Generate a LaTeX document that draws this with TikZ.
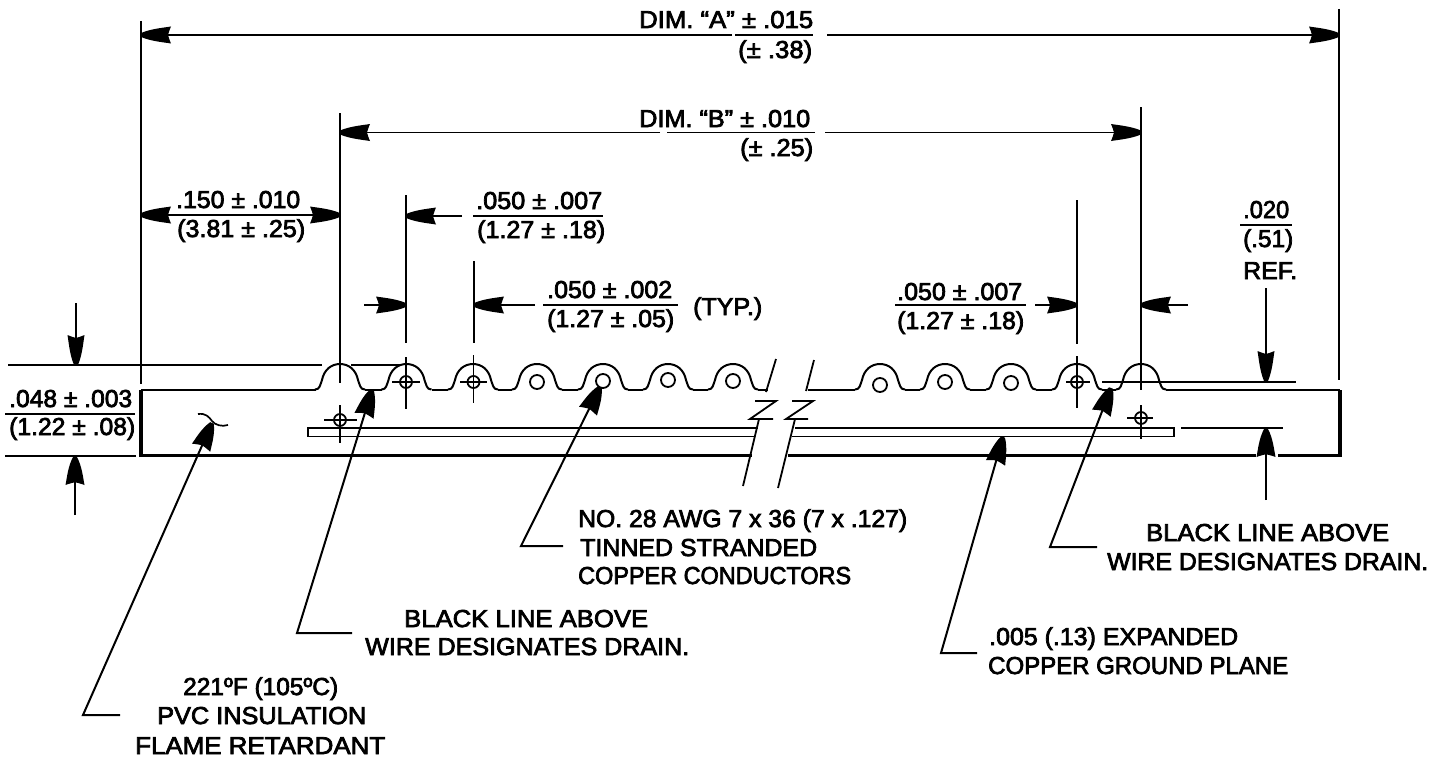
\documentclass[tikz,border=0pt]{standalone}
\usepackage{fontspec}
\usepackage{graphicx}
\usetikzlibrary{arrows.meta}
\newfontfamily\labfont[FakeBold=3]{Liberation Sans}
\newcommand\fw[2]{\resizebox{#1pt}{\height}{#2}}
\newcommand\declbarb[3]{%
  \pgfdeclarearrow{name=#1,
    setup code={\pgfarrowssettipend{0pt}\pgfarrowssetlineend{-14pt}\pgfarrowssetvisualtipend{0pt}\pgfarrowssetbackend{-#2pt}\pgfarrowssetvisualbackend{-20pt}},
    drawing code={
      \pgfpathmoveto{\pgfpoint{0pt}{2pt}}
      \pgfpathcurveto{\pgfpoint{-0.35*#2pt}{0.75*#3pt}}{\pgfpoint{-0.75*#2pt}{0.85*#3pt}}{\pgfpoint{-#2pt}{#3pt}}
      \pgfpathcurveto{\pgfpoint{-0.95*#2pt}{0.6*#3pt}}{\pgfpoint{-0.92*#2pt}{0.25*#3pt}}{\pgfpoint{-0.9*#2pt}{0pt}}
      \pgfpathcurveto{\pgfpoint{-0.92*#2pt}{-0.25*#3pt}}{\pgfpoint{-0.95*#2pt}{-0.6*#3pt}}{\pgfpoint{-#2pt}{-#3pt}}
      \pgfpathcurveto{\pgfpoint{-0.75*#2pt}{-0.85*#3pt}}{\pgfpoint{-0.35*#2pt}{-0.75*#3pt}}{\pgfpoint{0pt}{-2pt}}
      \pgfpathclose
      \pgfusepathqfill
    },
    defaults={}}}
\declbarb{DimBarb}{30}{8.5}
\declbarb{UpBarb}{28}{9.5}
\declbarb{LeadBarb}{27}{10}
\tikzset{
  labw/.style={inner sep=0pt,anchor=base west,font=\labfont\fontsize{24.5}{28}\selectfont},
  ext/.style={line width=1.7pt},
  profile/.style={line width=2pt},
  heavy/.style={line width=3.2pt},
  dimhead/.style={line width=1.5pt,-DimBarb},
  dimheads/.style={line width=1.5pt,DimBarb-DimBarb},
  uphead/.style={line width=1.5pt,-UpBarb},
  leader/.style={line width=2pt,-LeadBarb},
  frac/.style={line width=1.6pt},
  bump/.pic={\draw[profile] (-25,389.5) .. controls (-20,389.5) and (-20,385) .. (-18,380)
     .. controls (-16,370) and (-9,364) .. (0,364)
     .. controls (9,364) and (16,370) .. (18,380)
     .. controls (20,385) and (20,389.5) .. (25,389.5);},
}
\begin{document}
\begin{tikzpicture}[x=1pt,y=-1pt]
\useasboundingbox (0,0) rectangle (1429,760);
% --- extension lines
\coordinate (e1t) at (141,21); \coordinate (e1b) at (141,384);
\coordinate (e2t) at (340,113); \coordinate (e2b) at (340,383);
\coordinate (e3t) at (406,195); \coordinate (e3b) at (406,343);
\coordinate (e4t) at (474,261); \coordinate (e4b) at (474,343);
\coordinate (e5t) at (1077,200); \coordinate (e5b) at (1077,344);
\coordinate (e6t) at (1141,107); \coordinate (e6b) at (1141,390);
\coordinate (e7t) at (1339,9); \coordinate (e7b) at (1339,380);
\foreach \a/\b in {e1t/e1b,e2t/e2b,e3t/e3b,e4t/e4b,e5t/e5b,e6t/e6b,e7t/e7b}
  \draw[ext] (\a) -- (\b);
% --- body
\coordinate (bl1) at (316,390); \coordinate (bl0) at (141,390);
\coordinate (bb0) at (141,455.5); \coordinate (bb1) at (752,455.5);
\coordinate (bb2) at (788,455.5); \coordinate (bb3) at (1256,455.5);
\coordinate (bb4) at (1278,455.5); \coordinate (bb5) at (1340,455.5);
\coordinate (br) at (1340,389.5); \coordinate (br1) at (1166,389.5);
\draw[profile] (bl1) -- (bl0);
\draw[heavy] (bl0) -- (bb0) -- (bb1);
\draw[heavy] (bb2) -- (bb3);
\draw[heavy] (bb4) -- (bb5) -- (br);
\draw[profile] (br) -- (br1);
% --- bumps
\foreach \c in {340,406.5,473,537,603,668,733,880,945,1011,1077,1141}
  \pic at (\c,0) {bump};
\foreach \p/\q in {365/381.5,431.5/448,498/512,562/578,628/643,693/708,758/768,808/855,905/920,970/986,1036/1052,1102/1116}
  \draw[profile] (\p,389.5) -- (\q,389.5);
% --- conductors
\foreach \c/\d [count=\i] in {537/382,603/381,668/380,733/381,880/385,945/382,1011/383}
  \node[circle,draw,line width=1.8pt,minimum size=14pt,inner sep=0pt] (w\i) at (\c,\d) {};
% --- drain / ground crosshairs
\foreach \n/\c/\d/\hl/\hr/\vt/\vb in {d1/340/420/324/357/405/443, d2/406/382/392/420/357/409, d3/473.5/382/460/487/355/403, d4/1077/382/1066/1090/356/408, d5/1141/418/1127/1153/405/439}{
  \node[circle,draw,line width=1.8pt,minimum size=12pt,inner sep=0pt] (\n) at (\c,\d) {};
  \draw[line width=1.7pt] (\hl,\d) -- (\hr,\d);
  \draw[line width=1.6pt] (\c,\vt) -- (\c,\vb);
}
% --- ground plane
\coordinate (g1) at (758,428); \coordinate (g2) at (308,428);
\coordinate (g3) at (308,436.5); \coordinate (g4) at (755,436.5);
\draw[line width=1.8pt] (g1) -- (g2) -- (g3) -- (g4);
\coordinate (g5) at (795,428); \coordinate (g6) at (1174,428);
\coordinate (g7) at (1174,436.5); \coordinate (g8) at (792,436.5);
\draw[line width=1.8pt] (g5) -- (g6) -- (g7) -- (g8);
% --- break marks
\draw[line width=1.8pt] (776,359) -- (766,392);
\draw[line width=1.8pt] (755,401) -- (776,401) -- (750,419) -- (773,419);
\draw[line width=1.8pt] (759,419) -- (743,486);
\draw[line width=1.8pt] (814,360) -- (806,391);
\draw[line width=1.8pt] (792,401) -- (813,401) -- (786,419) -- (808,419);
\draw[line width=1.8pt] (795,419) -- (778,488);
% --- DIM A
\coordinate (Al) at (141,35); \coordinate (Alm) at (732,35);
\coordinate (Af1) at (735,35); \coordinate (Af2) at (813,35);
\coordinate (Ar) at (1339,35); \coordinate (Arm) at (827,35);
\draw[dimhead] (Alm) -- (Al);
\draw[frac] (Af1) -- (Af2);
\draw[dimhead] (Arm) -- (Ar);
\node[labw] (ta1) at (639,28) {\fw{174}{DIM. “A” ± .015}};
\node[labw] (ta2) at (738,58) {\fw{74}{(± .38)}};
% --- DIM B
\coordinate (Bl) at (340,132.5); \coordinate (Blm) at (660,132.5);
\coordinate (Bf1) at (667,132.5); \coordinate (Bf2) at (815,132.5);
\coordinate (Br) at (1141,132.5); \coordinate (Brm) at (825,132.5);
\draw[dimhead] (Blm) -- (Bl);
\draw[frac] (Bf1) -- (Bf2);
\draw[dimhead] (Brm) -- (Br);
\node[labw] (tb1) at (639,127) {\fw{171}{DIM. “B” ± .010}};
\node[labw] (tb2) at (740,156) {\fw{73}{(± .25)}};
% --- .150
\coordinate (Cl) at (141,215); \coordinate (Cr) at (340,215);
\draw[dimheads] (Cl) -- (Cr);
\node[labw] (tc1) at (176,208) {\fw{124}{.150 ± .010}};
\node[labw] (tc2) at (177,237) {\fw{128}{(3.81 ± .25)}};
% --- .050 upper
\coordinate (Dt) at (406,216); \coordinate (Ds) at (462,216);
\coordinate (Df1) at (473,216); \coordinate (Df2) at (603,216);
\draw[dimhead] (Ds) -- (Dt);
\draw[frac] (Df1) -- (Df2);
\node[labw] (td1) at (476,209) {\fw{126}{.050 ± .007}};
\node[labw] (td2) at (477,238) {\fw{128}{(1.27 ± .18)}};
% --- small arrow to wire 1
\coordinate (Es) at (364,305); \coordinate (Et) at (406,305);
\draw[dimhead] (Es) -- (Et);
% --- .050 typ
\coordinate (Ft) at (474,305); \coordinate (Fs) at (535,305);
\coordinate (Ff1) at (543,305); \coordinate (Ff2) at (678,305);
\draw[dimhead] (Fs) -- (Ft);
\draw[frac] (Ff1) -- (Ff2);
\node[labw] (tf1) at (547,298) {\fw{125}{.050 ± .002}};
\node[labw] (tf2) at (547,327) {\fw{127}{(1.27 ± .05)}};
\node[labw] (tf3) at (693,315) {\fw{69}{(TYP.)}};
% --- .050 right
\coordinate (Gf1) at (895,305); \coordinate (Gf2) at (1026,305);
\coordinate (Gs) at (1035,305); \coordinate (Gt) at (1077,305);
\draw[frac] (Gf1) -- (Gf2);
\draw[dimhead] (Gs) -- (Gt);
\node[labw] (tg1) at (897,300) {\fw{125}{.050 ± .007}};
\node[labw] (tg2) at (897,329) {\fw{127}{(1.27 ± .18)}};
% --- small arrow to last bump
\coordinate (Hs) at (1188,305); \coordinate (Ht) at (1141,305);
\draw[dimhead] (Hs) -- (Ht);
% --- .020 ref
\node[labw] (tr1) at (1243,218) {\fw{46}{.020}};
\coordinate (Rf1) at (1240,225); \coordinate (Rf2) at (1292,225);
\draw[frac] (Rf1) -- (Rf2);
\node[labw] (tr2) at (1243,247) {\fw{50}{(.51)}};
\node[labw] (tr3) at (1243,279) {\fw{54}{REF.}};
\coordinate (Rs) at (1266,288); \coordinate (Rt) at (1266,381);
\draw[dimhead] (Rs) -- (Rt);
\coordinate (Rl1) at (1102,382); \coordinate (Rl2) at (1296,382);
\draw[frac] (Rl1) -- (Rl2);
% --- .005 thickness from right
\coordinate (Sl1) at (1181,428); \coordinate (Sl2) at (1283,428);
\draw[frac] (Sl1) -- (Sl2);
\coordinate (Ss) at (1266,500); \coordinate (St) at (1266,429);
\draw[uphead] (Ss) -- (St);
% --- .048 left
\coordinate (Ll1) at (8,365); \coordinate (Ll2) at (322,365);
\coordinate (Ll3) at (351,365); \coordinate (Ll4) at (401,365);
\draw[frac] (Ll1) -- (Ll2);
\draw[frac] (Ll3) -- (Ll4);
\coordinate (Ll5) at (5,456); \coordinate (Ll6) at (136,456);
\draw[frac] (Ll5) -- (Ll6);
\coordinate (Ls) at (76,303); \coordinate (Lt) at (76,365);
\draw[dimhead] (Ls) -- (Lt);
\coordinate (Lu) at (75,515); \coordinate (Lv) at (75,457);
\draw[uphead] (Lu) -- (Lv);
\coordinate (Lf1) at (5,414); \coordinate (Lf2) at (135,414);
\draw[frac] (Lf1) -- (Lf2);
\node[labw] (tl1) at (9,407) {\fw{123}{.048 ± .003}};
\node[labw] (tl2) at (9,435) {\fw{126}{(1.22 ± .08)}};
% --- tilde
\draw[line width=1.7pt] (198,414) .. controls (206,413) and (209,417) .. (212,421) .. controls (215,425) and (222,427) .. (228,425);
% --- leaders
\coordinate (p1) at (212,423); \coordinate (p2) at (83,715); \coordinate (p3) at (120,715);
\draw[leader] (p3) -- (p2) -- (p1);
\node[labw] (tp1) at (183,695) {\fw{155}{221ºF (105ºC)}};
\node[labw] (tp2) at (157,724) {\fw{209}{PVC INSULATION}};
\node[labw] (tp3) at (135,754) {\fw{250}{FLAME RETARDANT}};
\coordinate (q1) at (372,390); \coordinate (q2) at (297,633); \coordinate (q3) at (352,633);
\draw[leader] (q3) -- (q2) -- (q1);
\node[labw] (tq1) at (404,627) {\fw{244}{BLACK LINE ABOVE}};
\node[labw] (tq2) at (365,655) {\fw{324}{WIRE DESIGNATES DRAIN.}};
\coordinate (r1) at (600,387); \coordinate (r2) at (521,546); \coordinate (r3) at (563,546);
\draw[leader] (r3) -- (r2) -- (r1);
\node[labw] (tn1) at (578,527) {\fw{329}{NO. 28 AWG 7 x 36 (7 x .127)}};
\node[labw] (tn2) at (580,556) {\fw{237}{TINNED STRANDED}};
\node[labw] (tn3) at (578,584) {\fw{273}{COPPER CONDUCTORS}};
\coordinate (s1) at (1003,437); \coordinate (s2) at (941,653); \coordinate (s3) at (977,653);
\draw[leader] (s3) -- (s2) -- (s1);
\node[labw] (tu1) at (989,645) {\fw{249}{.005 (.13) EXPANDED}};
\node[labw] (tu2) at (988,674) {\fw{300}{COPPER GROUND PLANE}};
\coordinate (v1) at (1111,388); \coordinate (v2) at (1050,547); \coordinate (v3) at (1097,547);
\draw[leader] (v3) -- (v2) -- (v1);
\node[labw] (tv1) at (1146,541) {\fw{243}{BLACK LINE ABOVE}};
\node[labw] (tv2) at (1107,570) {\fw{321}{WIRE DESIGNATES DRAIN.}};
\end{tikzpicture}
\end{document}
